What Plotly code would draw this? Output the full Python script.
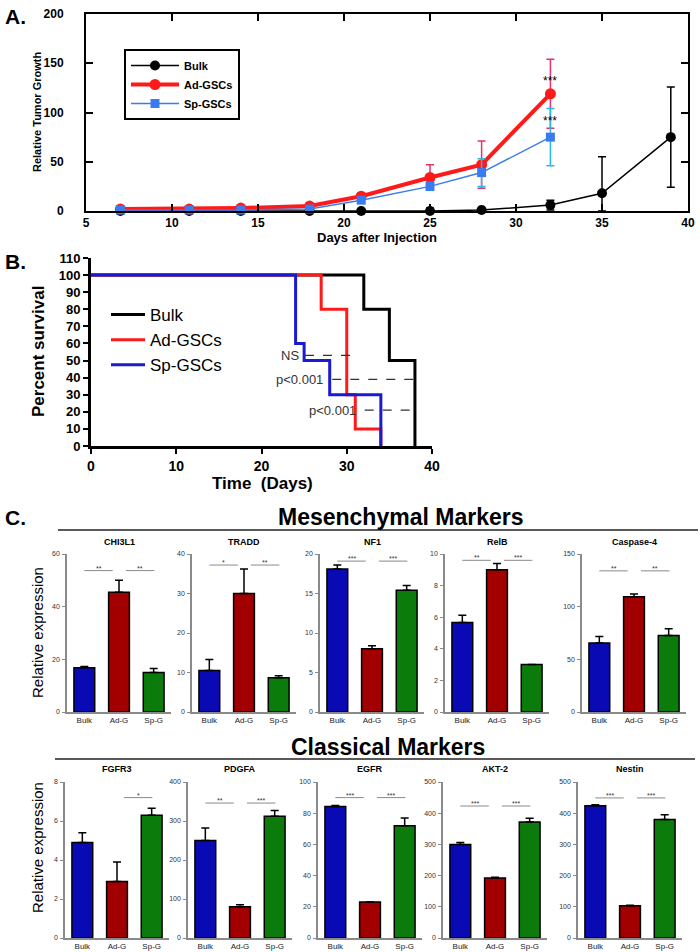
import plotly.graph_objects as go

W, H = 700, 952
FONT = "Liberation Sans, Arial, sans-serif"


def fx(p):
    return p / W


def fy(p):
    return 1 - p / H


# ---------------- Panel A data ----------------
days = [7, 11, 14, 18, 21, 25, 28, 32, 35, 39]
bulk_growth = [0, 0, 0, 0, 0, 0, 1, 6, 18, 75]
bulk_err = [0, 0, 0, 0, 0, 3, 0, 5, 37, 51]
ad_days = [7, 11, 14, 18, 21, 25, 28, 32]
ad_growth = [2, 2, 3, 5, 15, 34, 47, 119]
ad_err = [0, 0, 0, 1, 3, 13, 24, 35]
sp_days = [7, 11, 14, 18, 21, 25, 28, 32]
sp_growth = [1, 1, 1, 2, 11, 25, 39, 75]
sp_err = [0, 0, 0, 1, 3, 4, 14, 29]
a_star_x = [32, 32]
a_star_y = [132, 91]

# ---------------- Panel B data ----------------
bulk_t = [0, 32, 35, 38]
bulk_s = [100, 80, 50, 0]
ad_t = [0, 27, 30, 31, 34]
ad_s = [100, 80, 30, 10, 0]
sp_t = [0, 24, 25, 28, 34]
sp_s = [100, 60, 50, 30, 0]
pval_labels = ["NS", "p<0.001", "p<0.001"]
pval_text_x = [24.6, 27.5, 31.3]
pval_y = [53, 39, 21]
pval_x0 = [25.1, 28.3, 32.1]
pval_x1 = [31.3, 37.8, 38.4]

# ---------------- Panel C data ----------------
groups = ["Bulk", "Ad-G", "Sp-G"]
mes_genes = ["CHI3L1", "TRADD", "NF1", "RelB", "Caspase-4"]
mes_vals = [[16.8, 45.5, 15.0], [10.5, 30.0, 8.7], [18.1, 8.0, 15.4], [5.67, 9.0, 3.0], [65.6, 109.5, 72.6]]
mes_err = [[0.5, 4.5, 1.5], [2.8, 6.2, 0.5], [0.5, 0.4, 0.6], [0.45, 0.4, 0.0], [6.0, 2.5, 6.5]]
mes_ymax = [60, 40, 20, 10, 150]
mes_dtick = [20, 10, 5, 2, 50]
mes_sig_y = [53.7, 37.2, 19.1, 9.6, 134]
mes_sig = [["**", "**"], ["*", "**"], ["***", "***"], ["**", "***"], ["**", "**"]]

cls_genes = ["FGFR3", "PDGFA", "EGFR", "AKT-2", "Nestin"]
cls_vals = [[4.9, 2.9, 6.3], [250, 80, 312], [84.3, 23.1, 72.0], [300, 192, 372], [424, 103, 380]]
cls_err = [[0.5, 1.0, 0.35], [32, 5, 15], [0.7, 0.0, 5.0], [6, 3, 12], [3, 2, 15]]
cls_ymax = [8, 400, 100, 500, 500]
cls_dtick = [2, 100, 20, 100, 100]
cls_sig_y = [7.2, 346, 90, 423, 449]
cls_sig = [[None, "*"], ["**", "***"], ["***", "***"], ["***", "***"], ["***", "***"]]

bar_colors = ["#0a0ab4", "#a20000", "#0b7b0b"]

# layout geometry (pixels)
mes_left = [67, 192, 320, 445, 582]
cls_left = [65, 188, 318, 443, 578]
panel_w = 104
mes_top, mes_bot = 554, 712
cls_top, cls_bot = 782, 938

fig = go.Figure()
layout = dict(
    template="none",
    width=W, height=H, margin=dict(l=0, r=0, t=0, b=0, pad=0, autoexpand=False),
    paper_bgcolor="white", plot_bgcolor="white",
    font=dict(family=FONT, color="black"),
    showlegend=True,
)
annotations = []
shapes = []


def label(x, y, text, size, bold=False, angle=0, xanchor="center", color="black"):
    annotations.append(dict(x=fx(x), y=fy(y), xref="paper", yref="paper", text=text, textangle=angle,
                            xanchor=xanchor, yanchor="middle", showarrow=False,
                            font=dict(size=size, weight="bold" if bold else "normal", color=color)))


# ---------------- Panel A ----------------
fig.add_trace(go.Scatter(
    x=days, y=bulk_growth, name="Bulk", mode="lines+markers",
    line=dict(color="black", width=1.5), marker=dict(symbol="circle", size=10, color="black"),
    error_y=dict(type="data", array=bulk_err, arrayminus=[min(e, v) for e, v in zip(bulk_err, bulk_growth)],
                 symmetric=False, color="black", thickness=1.5, width=4),
    cliponaxis=False, xaxis="x", yaxis="y", legend="legend"))
fig.add_trace(go.Scatter(
    x=ad_days, y=ad_growth, name="Ad-GSCs", mode="lines+markers",
    line=dict(color="#ff1a1a", width=4), marker=dict(symbol="circle", size=11, color="#ff1a1a"),
    error_y=dict(type="data", array=ad_err, color="#e8306e", thickness=1.5, width=4),
    cliponaxis=False, xaxis="x", yaxis="y", legend="legend"))
fig.add_trace(go.Scatter(
    x=sp_days, y=sp_growth, name="Sp-GSCs", mode="lines+markers",
    line=dict(color="#3a7cf0", width=1.5), marker=dict(symbol="square", size=9, color="#3a7cf0"),
    error_y=dict(type="data", array=sp_err, color="#27b9e8", thickness=1.5, width=4),
    cliponaxis=False, xaxis="x", yaxis="y", legend="legend"))

layout["xaxis"] = dict(domain=[fx(86), fx(688)], anchor="y", range=[5, 40], automargin=False,
                       tickvals=[5, 10, 15, 20, 25, 30, 35, 40], ticks="inside", ticklen=7, tickwidth=2,
                       tickcolor="black",
                       showline=True, linewidth=2, linecolor="black", mirror="ticks", showgrid=False, zeroline=False,
                       tickfont=dict(size=12, weight="bold", family=FONT, color="black"))
layout["yaxis"] = dict(domain=[fy(211), fy(14)], anchor="x", range=[0, 200], automargin=False,
                       tickvals=[0, 50, 100, 150, 200], ticks="inside", ticklen=7, tickwidth=2,
                       tickcolor="black",
                       showline=True, linewidth=2, linecolor="black", mirror="ticks", showgrid=False, zeroline=False,
                       ticklabelstandoff=18,
                       tickfont=dict(size=12, weight="bold", family=FONT, color="black"))
layout["legend"] = dict(x=fx(124), y=fy(49), xanchor="left", yanchor="top",
                        bordercolor="black", borderwidth=2, bgcolor="white",
                        font=dict(size=11, weight="bold", family=FONT, color="black"),
                        tracegroupgap=0, itemwidth=48)
for sx, sy in zip(a_star_x, a_star_y):
    annotations.append(dict(x=sx, y=sy, xref="x", yref="y", text="***", showarrow=False,
                            xanchor="center", yanchor="middle", font=dict(size=12, color="black")))
label(37, 112, "Relative Tumor Growth", 11, bold=True, angle=-90)
label(377, 237, "Days after Injection", 13, bold=True)
label(3, 16, "A.", 21, bold=True, xanchor="left")

# ---------------- Panel B ----------------
for name, t, s, col in [("Bulk", bulk_t, bulk_s, "black"), ("Ad-GSCs", ad_t, ad_s, "#ff1a1a"),
                        ("Sp-GSCs", sp_t, sp_s, "#1a1ad0")]:
    fig.add_trace(go.Scatter(x=t, y=s, name=name, mode="lines", line=dict(color=col, width=3, shape="hv"),
                             cliponaxis=False, xaxis="x2", yaxis="y2", legend="legend2"))

layout["xaxis2"] = dict(domain=[fx(91), fx(432)], anchor="y2", range=[0, 40], tickvals=[0, 10, 20, 30, 40],
                        automargin=False, tickcolor="black",
                        ticks="outside", ticklen=5, tickwidth=2, showline=True, linewidth=3, linecolor="black",
                        showgrid=False, zeroline=False, tickfont=dict(size=14, weight="bold", family=FONT,
                                                                      color="black"))
layout["yaxis2"] = dict(domain=[fy(446), fy(258)], anchor="x2", range=[0, 110], automargin=False,
                        tickvals=list(range(0, 111, 10)), ticks="outside", ticklen=5, tickwidth=2,
                        tickcolor="black",
                        showline=True, linewidth=3, linecolor="black", showgrid=False, zeroline=False,
                        tickfont=dict(size=13, weight="bold", family=FONT, color="black"))
layout["legend2"] = dict(x=fx(106), y=fy(297), xanchor="left", yanchor="top", bgcolor="rgba(0,0,0,0)",
                         font=dict(size=17, family=FONT, color="black"), tracegroupgap=0, itemwidth=34)
for lab, tx, y, x0, x1 in zip(pval_labels, pval_text_x, pval_y, pval_x0, pval_x1):
    annotations.append(dict(x=tx, y=y, xref="x2", yref="y2", text=lab, xanchor="right", yanchor="middle",
                            showarrow=False, font=dict(size=13, color="#333")))
    shapes.append(dict(type="line", xref="x2", yref="y2", x0=x0, x1=x1, y0=y, y1=y,
                       line=dict(color="#333", width=1.2, dash="dash")))
label(38, 352, "Percent survival", 17, bold=True, angle=-90)
label(262, 483, "Time  (Days)", 17, bold=True)
label(3, 261, "B.", 21, bold=True, xanchor="left")

# ---------------- Panel C ----------------
label(3, 517, "C.", 21, bold=True, xanchor="left")
label(400, 517, "Mesenchymal Markers", 23, bold=True)
label(388, 747, "Classical Markers", 23, bold=True)
shapes.append(dict(type="line", xref="paper", yref="paper", x0=fx(58), x1=fx(698), y0=fy(530), y1=fy(530),
                   line=dict(color="#222", width=1.5)))
shapes.append(dict(type="line", xref="paper", yref="paper", x0=fx(55), x1=fx(695), y0=fy(759), y1=fy(759),
                   line=dict(color="#222", width=1.5)))
label(37, 633, "Relative expression", 15, angle=-90)
label(37, 848, "Relative expression", 15, angle=-90)

rows = [
    (mes_genes, mes_vals, mes_err, mes_ymax, mes_dtick, mes_sig_y, mes_sig, mes_left, mes_top, mes_bot, 542),
    (cls_genes, cls_vals, cls_err, cls_ymax, cls_dtick, cls_sig_y, cls_sig, cls_left, cls_top, cls_bot, 769),
]
k = 3
for genes, vals, errs, ymaxs, dticks, sigy, sigs, lefts, top, bot, title_y in rows:
    for i in range(5):
        xa, ya = f"x{k}", f"y{k}"
        fig.add_trace(go.Bar(
            x=[0, 1, 2], y=vals[i], width=0.6, showlegend=False,
            marker=dict(color=bar_colors, line=dict(color="black", width=1.5)),
            error_y=dict(type="data", array=errs[i], arrayminus=[0, 0, 0], symmetric=False,
                         color="black", thickness=1.5, width=4, visible=True),
            xaxis=xa, yaxis=ya))
        layout[f"xaxis{k}"] = dict(domain=[fx(lefts[i]), fx(lefts[i] + panel_w)], anchor=ya, range=[-0.5, 2.5],
                                   automargin=False,
                                   tickvals=[0, 1, 2], ticktext=groups, ticks="", showline=True, linewidth=1.5,
                                   linecolor="#8a8a8a", showgrid=False, zeroline=False,
                                   tickfont=dict(size=8, color="#222", family=FONT))
        layout[f"yaxis{k}"] = dict(domain=[fy(bot), fy(top)], anchor=xa, range=[0, ymaxs[i]],
                                   automargin=False,
                                   tickvals=list(range(0, ymaxs[i] + 1, dticks[i])), ticks="outside", ticklen=3,
                                   tickcolor="#8a8a8a", showline=True, linewidth=1.5, linecolor="#8a8a8a",
                                   showgrid=False, zeroline=False, ticklabelstandoff=1,
                                   tickfont=dict(size=7, color="#333", family=FONT))
        annotations.append(dict(x=1, y=fy(title_y), xref=xa, yref="paper", text=genes[i], showarrow=False,
                                xanchor="center", yanchor="middle", font=dict(size=9, weight="bold")))
        for (x0, x1), lab in zip([(0.0, 0.82), (1.2, 2.02)], sigs[i]):
            if lab is None:
                continue
            shapes.append(dict(type="line", xref=xa, yref=ya, x0=x0, x1=x1, y0=sigy[i], y1=sigy[i],
                               line=dict(color="#8a8a8a", width=1)))
            annotations.append(dict(x=(x0 + x1) / 2, y=sigy[i], xref=xa, yref=ya, text=lab, showarrow=False,
                                    xanchor="center", yanchor="bottom", yshift=-3,
                                    font=dict(size=7, color="#333")))
        k += 1

layout["annotations"] = annotations
layout["shapes"] = shapes
fig.update_layout(**layout)
fig.write_html("out.html", config={"displayModeBar": False},
               post_script="document.body.style.margin='0px';")
